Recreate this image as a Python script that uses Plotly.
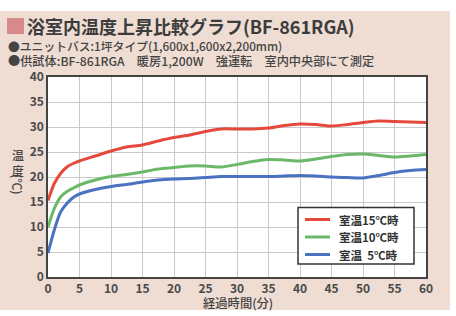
import plotly.graph_objects as go

minutes = [0, 1, 2, 3, 4, 5, 7.5, 10, 12.5, 15, 17.5, 20, 22.5, 25, 27.5, 30,
           32.5, 35, 37.5, 40, 42.5, 45, 47.5, 50, 52.5, 55, 57.5, 60]
room15 = [15.3, 18.7, 20.7, 22.0, 22.7, 23.2, 24.2, 25.2, 26.0, 26.4, 27.2, 27.9, 28.4, 29.1,
          29.6, 29.6, 29.6, 29.8, 30.3, 30.6, 30.5, 30.2, 30.5, 30.9, 31.2, 31.1, 31.0, 30.9]
room10 = [10.0, 13.7, 16.0, 17.1, 17.8, 18.4, 19.4, 20.1, 20.5, 21.0, 21.6, 21.9, 22.2, 22.2,
          22.0, 22.5, 23.1, 23.5, 23.4, 23.2, 23.6, 24.1, 24.5, 24.6, 24.3, 24.0, 24.2, 24.5]
room5 = [4.8, 9.4, 13.0, 14.7, 15.9, 16.6, 17.5, 18.1, 18.5, 19.0, 19.4, 19.6, 19.7, 19.9,
         20.1, 20.1, 20.1, 20.1, 20.2, 20.3, 20.2, 20.0, 19.9, 19.8, 20.3, 20.9, 21.3, 21.5]
series_names = ["室温15℃時", "室温10℃時", "室温\u00a0\u00a05℃時"]
series_colors = ["#e5493b", "#6cb86a", "#4a72c0"]
x_ticks = list(range(0, 61, 5))
y_ticks = list(range(0, 41, 5))

title = "浴室内温度上昇比較グラフ(BF-861RGA)"
sub1 = "●ユニットバス:1坪タイプ(1,600x1,600x2,200mm)"
sub2 = "●供試体:BF-861RGA\u3000暖房1,200W\u3000強運転\u3000室内中央部にて測定"

FONT = "Noto Sans CJK JP"
PINK = "#efdcd3"

fig = go.Figure()
for vals, name, col in zip([room15, room10, room5], series_names, series_colors):
    fig.add_trace(go.Scatter(x=minutes, y=vals, mode="lines", name=name, showlegend=False,
                             line=dict(color=col, width=3, shape="spline", smoothing=0.8)))

# plot area: x 48..426, y 77..277 px
L, R, T, B = 48, 30, 77, 39
W, H = 456 - L - R, 316 - T - B

def px(x):
    return (x - L) / W

def py(y):
    return (316 - B - y) / H

shapes = [
    dict(type="rect", xref="paper", yref="paper", x0=px(-5), x1=px(461), y0=py(11), y1=py(-5),
         fillcolor="white", line=dict(width=0), layer="below"),
    dict(type="rect", xref="paper", yref="paper", x0=px(450), x1=px(461), y0=py(-5), y1=py(321),
         fillcolor="white", line=dict(width=0), layer="below"),
    dict(type="rect", xref="paper", yref="paper", x0=px(-5), x1=px(461), y0=py(310), y1=py(321),
         fillcolor="white", line=dict(width=0), layer="below"),
    dict(type="rect", xref="paper", yref="paper", x0=px(7), x1=px(24), y0=py(18), y1=py(34),
         fillcolor="#d8898a", line=dict(width=0)),
    # legend box
    dict(type="rect", xref="paper", yref="paper", x0=px(298), x1=px(414), y0=py(207.5), y1=py(264),
         fillcolor="white", line=dict(color="#333333", width=1.5)),
]

annotations = [
    dict(text=title, xref="paper", yref="paper", x=px(25), y=py(26), xanchor="left",
         yanchor="middle", showarrow=False,
         font=dict(family=FONT, size=18, color="#3c3c3c", weight="bold")),
    dict(text=sub1, xref="paper", yref="paper", x=px(6), y=py(45), xanchor="left",
         yanchor="middle", showarrow=False,
         font=dict(family=FONT, size=11.8, color="#444444", weight=500)),
    dict(text=sub2, xref="paper", yref="paper", x=px(6), y=py(60.5), xanchor="left",
         yanchor="middle", showarrow=False,
         font=dict(family=FONT, size=12.2, color="#444444", weight=500)),
    dict(text="経過時間(分)", xref="paper", yref="paper", x=px(238), y=py(303), xanchor="center",
         yanchor="middle", showarrow=False,
         font=dict(family=FONT, size=12.3, color="#444444", weight=500)),
    dict(text="温<br>度", xref="paper", yref="paper", x=px(18), y=py(162), xanchor="center",
         yanchor="middle", showarrow=False,
         font=dict(family=FONT, size=12, color="#444444", weight=500)),
    dict(text="(℃)", xref="paper", yref="paper", x=px(18), y=py(184), xanchor="center",
         yanchor="middle", showarrow=False, textangle=90,
         font=dict(family=FONT, size=12, color="#444444", weight=500)),
]

# legend entries (rows 17.5 px apart)
for i, (name, col) in enumerate(zip(series_names, series_colors)):
    yy = 219.5 + i * 17.5
    shapes.append(dict(type="line", xref="paper", yref="paper", x0=px(305), x1=px(330),
                       y0=py(yy), y1=py(yy), line=dict(color=col, width=3)))
    annotations.append(dict(text=name, xref="paper", yref="paper", x=px(337), y=py(yy),
                            xanchor="left", yanchor="middle", showarrow=False,
                            font=dict(family=FONT, size=11.5, color="#333333", weight="bold")))

fig.update_layout(
    width=456, height=316,
    margin=dict(l=L, r=R, t=T, b=B, pad=0),
    paper_bgcolor=PINK, plot_bgcolor="white",
    shapes=shapes, annotations=annotations,
    showlegend=False,
    xaxis=dict(range=[0, 60], tickvals=x_ticks, showgrid=True, gridcolor="#c9c9c9", gridwidth=1,
               showline=True, mirror=True, linecolor="#444444", linewidth=1.5, zeroline=False,
               ticks="", tickfont=dict(family=FONT, size=12, color="#4a4a4a", weight="bold"),
               fixedrange=True),
    yaxis=dict(range=[0, 40], tickvals=y_ticks, showgrid=True, gridcolor="#c9c9c9", gridwidth=1,
               showline=True, mirror=True, linecolor="#444444", linewidth=1.5, zeroline=False,
               ticks="", tickfont=dict(family=FONT, size=12, color="#4a4a4a", weight="bold"),
               fixedrange=True),
)

fig.write_html("out.html", config={"displayModeBar": False},
               post_script="document.body.style.margin='0';")
